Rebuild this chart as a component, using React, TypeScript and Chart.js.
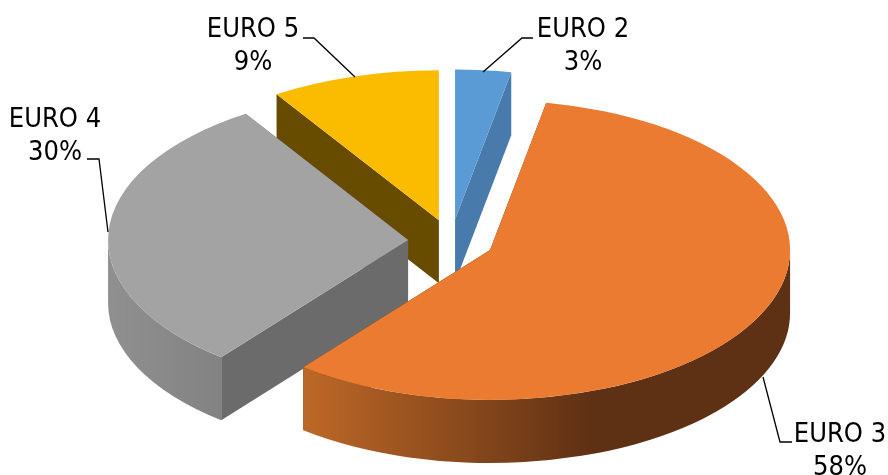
import React, { useEffect, useRef } from "react";
import { Chart, registerables } from "chart.js";

Chart.register(...registerables);

const categories = ["EURO 2", "EURO 3", "EURO 4", "EURO 5"];
const shares = [3.0, 57.7, 30.2, 9.1];

const topColors = ["#5b9bd5", "#ea7b31", "#a3a3a3", "#fbbc00"];
const cutColors = ["#487bab", "#5f3114", "#6b6b6b", "#674c00"];
const wallGradients = [
  ["#487bab", "#487bab", 1],
  ["#bd6827", "#5f3114", 0.59],
  ["#909090", "#828282", 1],
  ["#674c00", "#674c00", 1],
];
const paintOrder = [0, 3, 2, 1];

const EXPLODE = 21.5;
const DEPTH = 63;
const STRETCH_X = 2;
const FONT = '27px "DejaVu Sans Condensed", "DejaVu Sans", sans-serif';
const LINE_HEIGHT = 33;

// text centre, first baseline, and leader line, per category
const labelSpots = [
  { cx: 583, y: 37, line: [[533, 38], [522, 38], [483, 72]] },
  { cx: 840, y: 442, line: [[792, 442], [780, 442], [763, 377]] },
  { cx: 55, y: 127, line: [[87, 159], [99, 159], [108, 232]] },
  { cx: 253, y: 37, line: [[303, 38], [314, 38], [355, 77]] },
];

const pie3d = {
  id: "pie3d",
  beforeDatasetsDraw(chart: any) {
    const { ctx, chartArea } = chart;
    const arcs = chart.getDatasetMeta(0).data;
    const pivotX = (chartArea.left + chartArea.right) / 2;
    ctx.save();
    ctx.translate(pivotX, 0);
    ctx.scale(STRETCH_X, 1);
    ctx.translate(-pivotX, 0);
    for (const i of paintOrder) {
      const arc = arcs[i];
      const { x, y, startAngle: a0, endAngle: a1, outerRadius: r } = arc;
      const mid = (a0 + a1) / 2;
      ctx.save();
      ctx.translate(Math.cos(mid) * EXPLODE, Math.sin(mid) * EXPLODE);

      // cut faces
      ctx.fillStyle = cutColors[i];
      for (const a of [a0, a1]) {
        const ex = x + r * Math.cos(a);
        const ey = y + r * Math.sin(a);
        ctx.beginPath();
        ctx.moveTo(x, y);
        ctx.lineTo(ex, ey);
        ctx.lineTo(ex, ey + DEPTH);
        ctx.lineTo(x, y + DEPTH);
        ctx.closePath();
        ctx.fill();
      }

      // outer wall, shaded across its visible front part
      const v0 = Math.max(a0, 0);
      const v1 = Math.min(a1, Math.PI);
      if (v1 > v0) {
        const left = x + r * Math.cos(v1);
        const right = x + r * Math.cos(v0);
        const [light, dark, stop] = wallGradients[i] as [string, string, number];
        const g = ctx.createLinearGradient(left, 0, right, 0);
        g.addColorStop(0, light);
        g.addColorStop(stop, dark);
        g.addColorStop(1, dark);
        ctx.fillStyle = g;
        ctx.beginPath();
        ctx.arc(x, y, r, v0, v1);
        ctx.arc(x, y + DEPTH, r, v1, v0, true);
        ctx.closePath();
        ctx.fill();
      }

      // top face, drawn by the library's own arc element
      arc.draw(ctx, chartArea);
      ctx.restore();
    }
    ctx.restore();
    return false;
  },
  afterDraw(chart: any) {
    const { ctx } = chart;
    ctx.save();
    ctx.font = FONT;
    ctx.fillStyle = "#000000";
    ctx.textAlign = "center";
    ctx.textBaseline = "alphabetic";
    ctx.strokeStyle = "#000000";
    ctx.lineWidth = 1.3;
    categories.forEach((name, i) => {
      const s = labelSpots[i];
      ctx.fillText(name, s.cx, s.y);
      ctx.fillText(`${Math.round(shares[i])}%`, s.cx, s.y + LINE_HEIGHT);
      ctx.beginPath();
      s.line.forEach(([px, py], k) => (k ? ctx.lineTo(px, py) : ctx.moveTo(px, py)));
      ctx.stroke();
    });
    ctx.restore();
  },
};

export default function App() {
  const ref = useRef<HTMLCanvasElement | null>(null);
  useEffect(() => {
    const chart = new Chart(ref.current as HTMLCanvasElement, {
      type: "pie",
      data: {
        labels: categories,
        datasets: [
          {
            data: shares,
            backgroundColor: topColors,
            borderWidth: 0,
            clip: false,
          } as any,
        ],
      },
      options: {
        responsive: false,
        animation: false,
        layout: { padding: { left: 14, top: 91, bottom: 84 } },
        plugins: { legend: { display: false }, tooltip: { enabled: false } },
      },
      plugins: [pie3d as any],
    });
    return () => chart.destroy();
  }, []);
  return (
    <div style={{ position: "absolute", left: 0, top: 0 }}>
      <canvas ref={ref} width={888} height={475} style={{ display: "block" }} />
    </div>
  );
}
